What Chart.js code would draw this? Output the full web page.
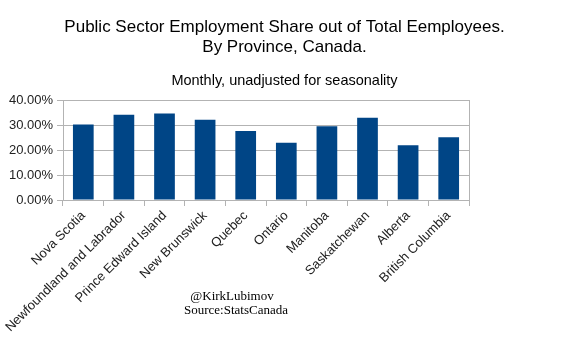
<!DOCTYPE html>
<html>
<head>
<meta charset="utf-8">
<script src="https://cdn.jsdelivr.net/npm/chart.js@4/dist/chart.umd.min.js"></script>
<style>
  html, body { margin: 0; padding: 0; background: #fff; }
  #wrap { width: 569px; height: 340px; position: relative; }
</style>
</head>
<body>
<div id="wrap"><canvas id="chart"></canvas></div>
<script>
// Provinces and their public sector share of employees (%)
var provinces = ['Nova Scotia', 'Newfoundland and Labrador', 'Prince Edward Island', 'New Brunswick',
  'Quebec', 'Ontario', 'Manitoba', 'Saskatchewan', 'Alberta', 'British Columbia'];
var publicShare = [30.4, 34.3, 34.8, 32.3, 27.7, 23.0, 29.7, 33.1, 22.0, 25.2];
var yTicks = [0, 10, 20, 30, 40];
var creditLines = ['@KirkLubimov', 'Source:StatsCanada'];

// Credit text under the axis labels
var creditPlugin = {
  id: 'credit',
  afterDraw: function (chart) {
    var ctx = chart.ctx;
    ctx.save();
    ctx.font = '13px "Liberation Serif"';
    ctx.fillStyle = '#000';
    ctx.textAlign = 'center';
    ctx.textBaseline = 'middle';
    ctx.fillText(creditLines[0], 232, 297);
    ctx.fillText(creditLines[1], 236, 311);
    ctx.restore();
  }
};

var gridColor = '#b3b3b3';

new Chart(document.getElementById('chart'), {
  type: 'bar',
  data: {
    labels: provinces,
    datasets: [{
      data: publicShare,
      backgroundColor: '#004586',
      borderWidth: 0,
      barPercentage: 1,
      categoryPercentage: 0.51
    }]
  },
  options: {
    responsive: true,
    maintainAspectRatio: false,
    animation: false,
    layout: { padding: 0 },
    plugins: {
      legend: { display: false },
      tooltip: { enabled: false },
      title: {
        display: true,
        text: ['Public Sector Employment Share out of Total Eemployees.', 'By Province, Canada.'],
        color: '#000',
        font: { family: '"Liberation Sans"', size: 17, weight: 'normal', lineHeight: 1.18 },
        padding: { top: 17, bottom: 8 }
      },
      subtitle: {
        display: true,
        text: 'Monthly, unadjusted for seasonality',
        color: '#000',
        font: { family: '"Liberation Sans"', size: 14.5, weight: 'normal', lineHeight: 1.2 },
        padding: { top: 7, bottom: 11 }
      }
    },
    scales: {
      x: {
        offset: true,
        grid: { offset: true, drawOnChartArea: false, color: gridColor, tickLength: 6 },
        border: { color: gridColor },
        ticks: {
          autoSkip: false,
          minRotation: 45,
          maxRotation: 45,
          color: '#222',
          font: { family: '"Liberation Sans"', size: 13 },
          padding: 2
        },
        afterFit: function (scale) { scale.height = 140; }
      },
      y: {
        min: 0,
        max: 40,
        afterBuildTicks: function (scale) {
          scale.ticks = yTicks.map(function (v) { return { value: v }; });
        },
        grid: { color: gridColor, tickLength: 6 },
        border: { color: gridColor },
        ticks: {
          color: '#222',
          font: { family: '"Liberation Sans"', size: 13 },
          padding: 4,
          callback: function (v) { return v.toFixed(2) + '%'; }
        },
        afterFit: function (scale) { scale.width = 63; }
      },
      yRight: {
        position: 'right',
        min: 0,
        max: 40,
        grid: { drawOnChartArea: false, drawTicks: false },
        border: { color: gridColor },
        ticks: { display: false },
        afterFit: function (scale) { scale.width = 100; }
      }
    }
  },
  plugins: [creditPlugin]
});
</script>
</body>
</html>
